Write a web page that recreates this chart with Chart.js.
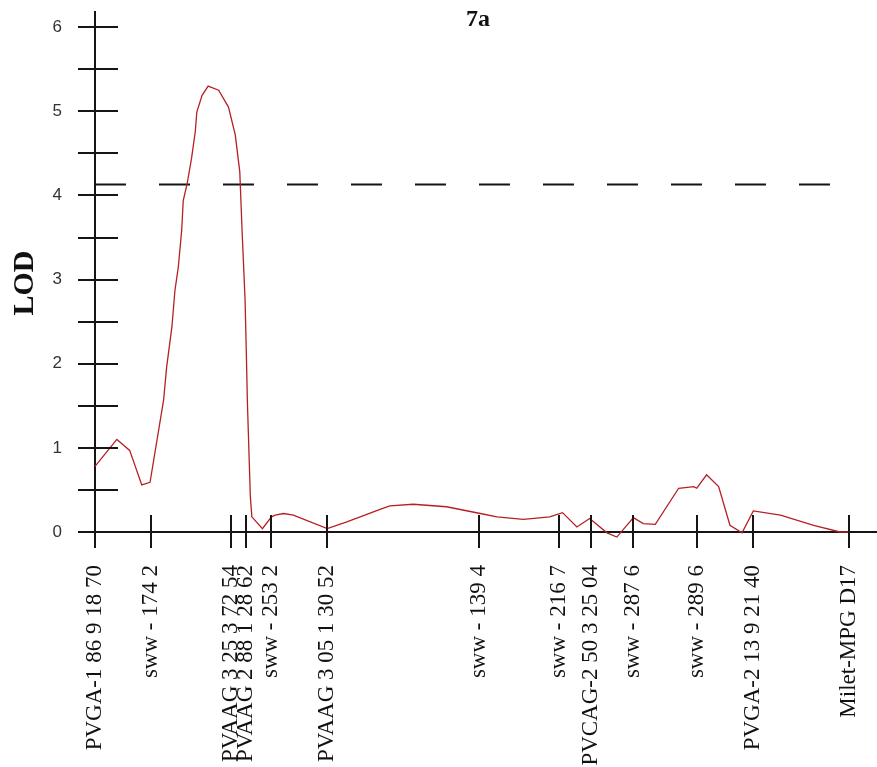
<!DOCTYPE html>
<html>
<head>
<meta charset="utf-8">
<script src="https://cdn.jsdelivr.net/npm/chart.js@4/dist/chart.umd.min.js"></script>
<style>
  html, body { margin: 0; padding: 0; background: #fff; }
  canvas { display: block; }
</style>
</head>
<body>
<canvas id="lodChart" width="877" height="767"></canvas>
<script>
// Linkage group 7a: marker names and their map positions (cM)
const markerNames = [
  "PVGA-1 86 9 18 70",
  "sww - 174 2",
  "PVAAG 3 25 3 72 54",
  "PVAAG 2 88 1 28 62",
  "sww - 253 2",
  "PVAAG 3 05 1 30 52",
  "sww - 139 4",
  "sww - 216 7",
  "PVCAG-2 50 3 25 04",
  "sww - 287 6",
  "sww - 289 6",
  "PVGA-2 13 9 21 40",
  "Milet-MPG D17"
];
const markerPos = [0, 7.4, 18.0, 20.0, 23.3, 30.8, 50.9, 61.5, 65.8, 71.4, 79.8, 87.3, 100];

// LOD profile along the group
const lodPos = [
  0.0, 2.9, 4.6, 6.2, 7.3, 9.1, 9.5, 10.2, 10.6, 11.05, 11.5, 11.7, 12.2, 12.8, 13.3, 13.5,
  14.2, 15.0, 16.4, 17.7, 18.6, 19.2, 19.35, 19.5, 19.9, 20.1, 20.2, 20.6, 20.8,
  22.2, 23.4, 23.9, 25.0, 26.3, 30.8, 33.4, 37.8, 39.1, 42.2, 46.6, 51.1, 53.3,
  56.8, 60.3, 62.0, 63.9, 65.6, 67.9, 69.2, 71.4, 72.7, 74.3, 77.4, 79.4, 79.8,
  81.1, 82.7, 84.2, 85.8, 87.3, 90.9, 95.3, 98.8, 100.0
];
const lodVal = [
  0.78, 1.10, 0.97, 0.56, 0.59, 1.57, 1.96, 2.44, 2.87, 3.15, 3.59, 3.94, 4.13, 4.44, 4.76, 4.99,
  5.19, 5.30, 5.25, 5.05, 4.72, 4.28, 3.94, 3.59, 2.76, 2.00, 1.57, 0.42, 0.18,
  0.04, 0.18, 0.20, 0.22, 0.20, 0.04, 0.12, 0.27, 0.31, 0.33, 0.30, 0.22, 0.18,
  0.15, 0.18, 0.23, 0.06, 0.16, -0.01, -0.06, 0.17, 0.10, 0.09, 0.52, 0.54, 0.52,
  0.68, 0.54, 0.08, -0.01, 0.25, 0.20, 0.08, 0.00, 0.00
];

// Significance threshold and the stretch it is drawn over
const threshold = 4.13;
const thresholdSpan = [0, 97.9];

// Y axis labels and the minor mark step
const yTickValues = [0, 1, 2, 3, 4, 5, 6];
const yMarkStep = 0.5;

const chartTitle = "7a";
const yTitle = "LOD";

const AXIS_COLOR = "#151515";

// Cross-shaped tick marks on both axes, plus the titles
const axisMarks = {
  id: "axisMarks",
  afterDraw(chart) {
    const { ctx, chartArea, scales } = chart;
    const xs = scales.x, ys = scales.y;
    ctx.save();
    ctx.strokeStyle = AXIS_COLOR;
    ctx.lineWidth = 2;
    ctx.beginPath();
    for (let v = 0; v <= yTickValues[yTickValues.length - 1] + 1e-9; v += yMarkStep) {
      const py = Math.round(ys.getPixelForValue(v));
      ctx.moveTo(chartArea.left - 17, py);
      ctx.lineTo(chartArea.left + 23, py);
    }
    markerPos.forEach(p => {
      const px = Math.round(xs.getPixelForValue(p));
      ctx.moveTo(px, chartArea.bottom - 17);
      ctx.lineTo(px, chartArea.bottom + 16);
    });
    ctx.stroke();

    ctx.fillStyle = "#111";
    ctx.textAlign = "center";
    ctx.textBaseline = "middle";
    ctx.font = "bold 24px 'Liberation Serif', serif";
    ctx.fillText(chartTitle, 478, 20);

    ctx.translate(25, 283);
    ctx.rotate(-Math.PI / 2);
    ctx.font = "bold 30px 'Liberation Serif', serif";
    ctx.fillText(yTitle, 0, 0);
    ctx.restore();
  }
};

new Chart(document.getElementById("lodChart"), {
  type: "line",
  data: {
    datasets: [
      {
        data: lodPos.map((x, i) => ({ x, y: lodVal[i] })),
        borderColor: "rgb(180, 32, 38)",
        borderWidth: 1.3,
        pointRadius: 0,
        tension: 0,
        clip: false
      },
      {
        data: thresholdSpan.map(x => ({ x, y: threshold })),
        borderColor: AXIS_COLOR,
        borderWidth: 2,
        borderDash: [31, 33],
        pointRadius: 0,
        tension: 0
      }
    ]
  },
  options: {
    responsive: false,
    animation: false,
    devicePixelRatio: 1,
    layout: { padding: { top: 12, right: 0, left: 0, bottom: 0 } },
    plugins: {
      legend: { display: false },
      tooltip: { enabled: false },
      title: { display: false }
    },
    scales: {
      x: {
        type: "linear",
        min: 0,
        max: 103.7,
        grid: { display: false },
        border: { display: true, color: AXIS_COLOR, width: 2 },
        afterBuildTicks: scale => { scale.ticks = markerPos.map(v => ({ value: v })); },
        afterFit: scale => {
          scale.height = 235;
          scale.paddingLeft = 0;
          scale.paddingRight = 0;
        },
        ticks: {
          autoSkip: false,
          minRotation: 90,
          maxRotation: 90,
          padding: 25,
          color: "#111",
          font: { family: "'Liberation Serif', serif", size: 23 },
          callback: (value, index) => markerNames[index]
        }
      },
      y: {
        type: "linear",
        min: 0,
        max: 6.18,
        grid: { display: false },
        border: { display: true, color: AXIS_COLOR, width: 2 },
        afterBuildTicks: scale => { scale.ticks = yTickValues.map(v => ({ value: v })); },
        afterFit: scale => {
          scale.width = 95;
          scale.paddingTop = 0;
          scale.paddingBottom = 0;
        },
        ticks: {
          padding: 25,
          color: "#333",
          font: { family: "'Liberation Sans', sans-serif", size: 17 },
          callback: value => String(value)
        }
      }
    }
  },
  plugins: [axisMarks]
});
</script>
</body>
</html>
